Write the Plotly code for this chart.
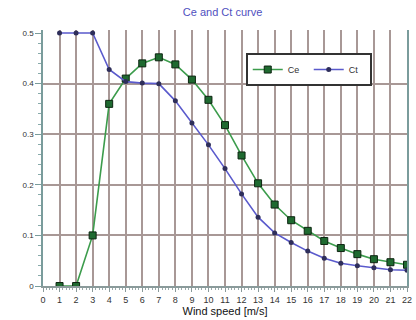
import plotly.graph_objects as go

wind_speed = list(range(1, 23))
ce_values = [0.0, 0.0, 0.10, 0.36, 0.41, 0.44, 0.452, 0.438, 0.408, 0.368, 0.318, 0.258,
             0.203, 0.161, 0.130, 0.109, 0.089, 0.075, 0.063, 0.053, 0.047, 0.042]
ct_values = [0.50, 0.50, 0.50, 0.428, 0.404, 0.401, 0.40, 0.366, 0.322, 0.279, 0.232, 0.182,
             0.136, 0.105, 0.086, 0.069, 0.055, 0.045, 0.040, 0.036, 0.032, 0.031]
x_ticks = list(range(0, 23))
y_ticks = [0, 0.1, 0.2, 0.3, 0.4, 0.5]
y_ticklabels = ["0", "0.1", "0.2", "0.3", "0.4", "0.5"]
grid_y = [0.1, 0.2, 0.3, 0.4]

fig = go.Figure()
fig.add_trace(go.Scatter(
    x=wind_speed, y=ce_values, name="Ce", mode="lines+markers",
    line=dict(color="#3c9c4c", width=1.6),
    marker=dict(symbol="square", size=7, color="#1f6a30", line=dict(color="#0c2410", width=1)),
))
fig.add_trace(go.Scatter(
    x=wind_speed, y=ct_values, name="Ct", mode="lines+markers",
    line=dict(color="#5a5acc", width=1.6),
    marker=dict(symbol="circle", size=5, color="#2e2e5a"),
))
# overlay axis used only for gridlines (no gridline at 0.5 in reference)
fig.add_trace(go.Scatter(x=[None], y=[None], yaxis="y2", showlegend=False, hoverinfo="skip"))

fig.update_layout(
    width=416, height=320,
    margin=dict(l=43, r=4, t=30, b=34),
    paper_bgcolor="white", plot_bgcolor="white",
    font=dict(family="Liberation Sans, Arial, sans-serif", color="#333333", size=9),
    title=dict(text="Ce and Ct curve", x=0.535, xanchor="center", y=0.962, yanchor="middle",
               font=dict(size=11, color="#5050c0")),
    xaxis=dict(
        range=[0, 22], tickmode="array", tickvals=x_ticks,
        showgrid=True, gridcolor="#a89896", gridwidth=1.5,
        showline=True, linecolor="#8a9a9a", linewidth=1.5,
        ticks="outside", ticklen=4, tickcolor="#8a9a9a",
        minor=dict(dtick=0.2, ticks="outside", ticklen=2, tickcolor="#9aa", showgrid=False),
        zeroline=False, ticklabeloverflow="allow",
        title=dict(text="Wind speed [m/s]", font=dict(size=11, color="#111111"), standoff=0),
        tickfont=dict(size=9, color="#333333"),
    ),
    yaxis=dict(
        range=[0, 0.506], tickmode="array", tickvals=y_ticks, ticktext=y_ticklabels,
        showgrid=False, showline=True, linecolor="#7a9c9c", linewidth=1.5, mirror=True,
        ticks="outside", ticklen=6, tickcolor="#7a9c9c",
        minor=dict(dtick=0.02, ticks="outside", ticklen=3, tickcolor="#8aa", showgrid=False),
        zeroline=False, tickfont=dict(size=8, color="#333333"),
    ),
    yaxis2=dict(
        range=[0, 0.506], overlaying="y", tickmode="array", tickvals=grid_y,
        showgrid=True, gridcolor="#a89896", gridwidth=1.5, showticklabels=False,
        zeroline=False, showline=False,
    ),
    legend=dict(
        orientation="h", x=0.557, y=0.91, xanchor="left", yanchor="top",
        bgcolor="white", bordercolor="#333333", borderwidth=2,
        font=dict(size=9, color="#333333"), itemwidth=30, entrywidth=16, tracegroupgap=0,
    ),
    showlegend=True,
)

fig.write_html("out.html", config={"displayModeBar": False},
               post_script="document.body.style.margin='0';document.body.style.overflow='hidden';")
